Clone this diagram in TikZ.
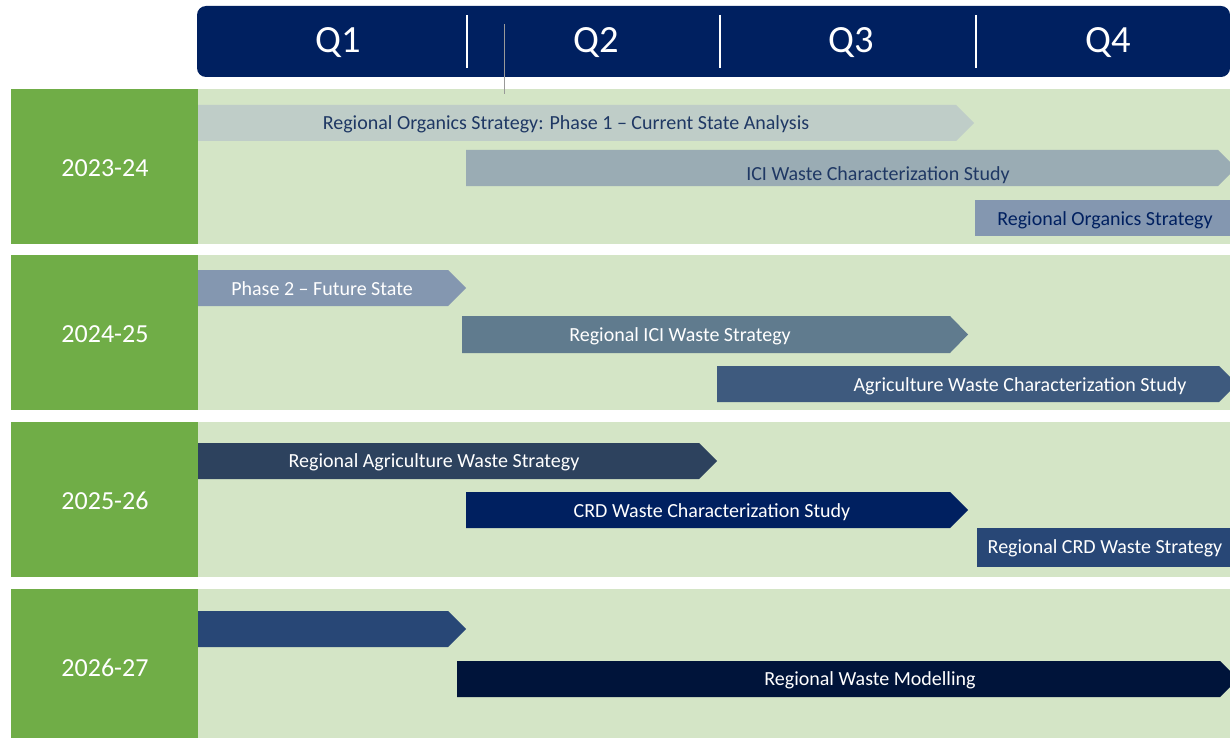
\documentclass[tikz,border=0pt]{standalone}
\usepackage{fontspec}
\setmainfont{Carlito}
\definecolor{navy}{HTML}{002060}
\definecolor{yeargreen}{HTML}{70AD47}
\definecolor{lanegreen}{HTML}{D4E5C6}
\definecolor{textnavy}{HTML}{1F3864}
\definecolor{cA}{HTML}{BFCDC8}
\definecolor{cB}{HTML}{9AACB4}
\definecolor{cC}{HTML}{8497B0}
\definecolor{cD}{HTML}{607B8E}
\definecolor{cE}{HTML}{3E5A7E}
\definecolor{cF}{HTML}{2D425E}
\definecolor{cG}{HTML}{284776}
\definecolor{cH}{HTML}{00143A}
% chevron bar: x-start, body end, top, bottom, fill colour
\newcommand{\chevbar}[5]{%
  \fill[#5] (#1,#3) -- (#2,#3) -- ({#2+18},{(#3+#4)/2}) -- (#2,#4) -- (#1,#4) -- cycle;}
\tikzset{
  quarter/.style={text=white, font=\fontsize{38.5}{42}\selectfont},
  year/.style={text=white, font=\fontsize{26}{30}\selectfont},
  task/.style={font=\fontsize{20}{24}\selectfont, inner sep=0pt},
  tasklight/.style={task, text=white},
  taskdark/.style={task, text=textnavy},
}
\begin{document}
\begin{tikzpicture}[x=1pt,y=-1pt]
\useasboundingbox (0,0) rectangle (1230,738);
\fill[white] (0,0) rectangle (1230,738);

% quarter header
\fill[navy, rounded corners=9pt] (197,6) rectangle (1230,77);
\foreach \xx in {467,720,976}
  \draw[white, line width=2pt] (\xx,15) -- (\xx,68);
\node[quarter] (q1) at (338,43) {Q1};
\node[quarter] (q2) at (596,43) {Q2};
\node[quarter] (q3) at (851,43) {Q3};
\node[quarter] (q4) at (1108,43) {Q4};
\draw[gray!80, line width=0.8pt] (504,24) -- (504,94);

% year lanes
\foreach \ya/\yb/\lbl/\nm in {89/244/2023-24/y1, 255/410/2024-25/y2, 422/577/2025-26/y3, 589/744/2026-27/y4} {
  \fill[lanegreen] (198,\ya) rectangle (1230,\yb);
  \fill[yeargreen] (11,\ya) rectangle (198,\yb);
  \node[year] (\nm) at (105,{(\ya+\yb)/2+1.5}) {\lbl};
}
\draw[gray!80, line width=0.8pt] (504,89) -- (504,94);

% 2023-24
\chevbar{198}{956}{105}{141}{cA}
\node[taskdark] (t1) at (566,124) {Regional Organics Strategy: Phase 1 – Current State Analysis};
\chevbar{466}{1218}{150}{186}{cB}
\node[taskdark] (t2) at (878,175) {ICI Waste Characterization Study};
\fill[cC] (975,200) rectangle (1230,236);
\node[taskdark, text=navy] (t3) at (1105,220) {Regional Organics Strategy};

% 2024-25
\chevbar{198}{448}{270}{306}{cC}
\node[tasklight] (t4) at (322,289) {Phase 2 – Future State};
\chevbar{462}{950}{316}{353}{cD}
\node[tasklight] (t5) at (680,336) {Regional ICI Waste Strategy};
\chevbar{717}{1219}{366}{402}{cE}
\node[tasklight] (t6) at (1020,386) {Agriculture Waste Characterization Study};

% 2025-26
\chevbar{198}{699}{443}{479}{cF}
\node[tasklight] (t7) at (434,462) {Regional Agriculture Waste Strategy};
\chevbar{466}{950}{492}{528}{navy}
\node[tasklight] (t8) at (712,512) {CRD Waste Characterization Study};
\fill[cG] (977,528) rectangle (1230,567);
\node[tasklight] (t9) at (1105,548) {Regional CRD Waste Strategy};

% 2026-27
\chevbar{198}{448}{611}{647}{cG}
\chevbar{457}{1220}{661}{697}{cH}
\node[tasklight] (t10) at (870,680) {Regional Waste Modelling};
\end{tikzpicture}
\end{document}
